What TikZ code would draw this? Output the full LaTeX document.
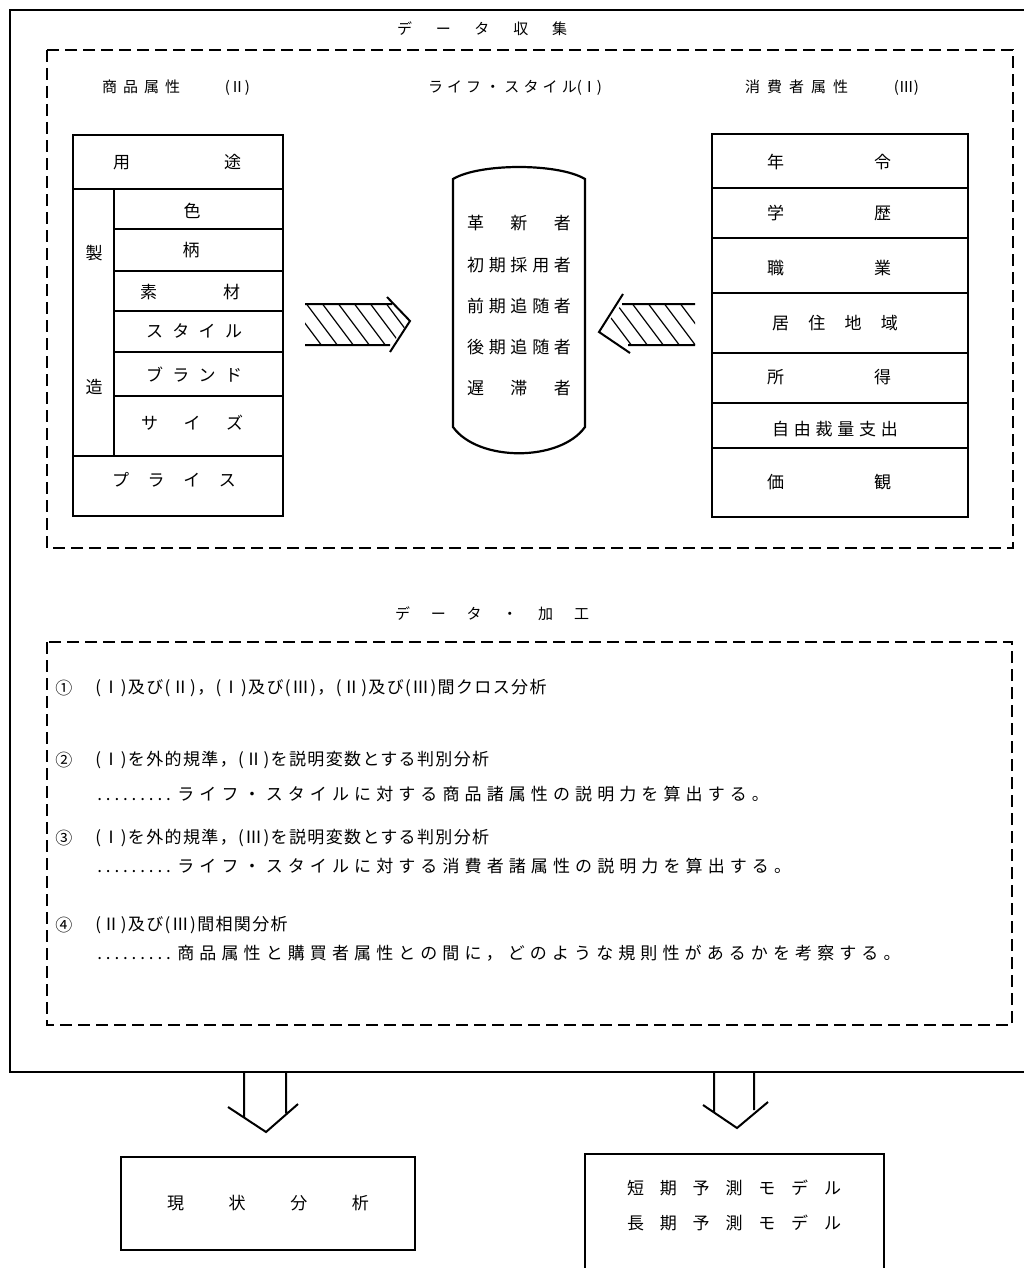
\documentclass[tikz,border=0pt]{standalone}
\usepackage{fontspec}
\setmainfont{Noto Sans CJK JP}
\newfontfamily\jpwide{Noto Sans CJK JP}[LetterSpace=30]
\newfontfamily\jpmid{Noto Sans CJK JP}[LetterSpace=8]
\newcommand\spread[2]{\makebox[#1][s]{#2}}
\newcommand\dotlead{\makebox[39pt][l]{\leaders\hbox to 4.3pt{\hss.\hss}\hfill}\hspace{2pt}}
\tikzset{
  frame/.style={line width=1pt},
  dashbox/.style={line width=0.8pt, dash pattern=on 6pt off 3pt},
  tbl/.style={line width=1.1pt},
  lbl/.style={inner sep=0pt, font=\fontsize{8.5}{10}\selectfont},
  hd/.style={inner sep=0pt, font=\fontsize{7.5}{9}\selectfont},
  item/.style={inner sep=0pt, anchor=west, font=\fontsize{8.5}{10}\selectfont},
  hatch/.style={line width=0.6pt},
  blockarrow/.style={line width=1pt},
}
\begin{document}
\begin{tikzpicture}[x=0.5pt,y=-0.5pt]
\useasboundingbox (0,0) rectangle (1023,1268);
% outer frame, open at the right
\draw[frame] (1030,10) -- (10,10) -- (10,1072) -- (1030,1072);
\node[hd] (collect) at (482,29) {\spread{85pt}{デ\hfill ー\hfill タ\hfill 収\hfill 集}};
\draw[dashbox] (47,50) rectangle (1013,548);
\node[hd] (hgoods) at (176,88) {\spread{74pt}{商\hspace{3pt}品\hspace{3pt}属\hspace{3pt}性\hfill(Ⅱ)}};
\node[hd] (hlife) at (515,88) {\spread{87pt}{ラ\hfill イ\hfill フ\hfill ・\hfill ス\hfill タ\hfill イ\hfill ル(Ⅰ)}};
\node[hd] (hcons) at (832,88) {\spread{87pt}{消\hspace{3.5pt}費\hspace{3.5pt}者\hspace{3.5pt}属\hspace{3.5pt}性\hfill(Ⅲ)}};

% goods attributes
\draw[tbl] (73,135) rectangle (283,516);
\draw[tbl] (73,189) -- (283,189) (73,456) -- (283,456) (114,189) -- (114,456);
\foreach \yy in {229,271,311,352,396} \draw[tbl] (114,\yy) -- (283,\yy);
\node[lbl] (use) at (177,162) {\spread{64pt}{用\hfill 途}};
\node[lbl] (color) at (192,211) {色};
\node[lbl] (pattern) at (191,250) {柄};
\node[lbl] (material) at (190,292) {\spread{50pt}{素\hfill 材}};
\node[lbl] (style) at (194,331) {\spread{48pt}{ス\hfill タ\hfill イ\hfill ル}};
\node[lbl] (brand) at (194,375) {\spread{48pt}{ブ\hfill ラ\hfill ン\hfill ド}};
\node[lbl] (size) at (192,423) {\spread{51pt}{サ\hfill イ\hfill ズ}};
\node[lbl] (price) at (174,480) {\spread{62pt}{プ\hfill ラ\hfill イ\hfill ス}};
\node[lbl] (make1) at (94,253) {製};
\node[lbl] (make2) at (94,387) {造};

% life style
\draw[tbl] (453,179) .. controls (480,163) and (558,163) .. (585,179) -- (585,427)
  .. controls (560,462) and (478,462) .. (453,427) -- cycle;
\node[lbl] (innov) at (519,223) {\spread{52pt}{革\hfill 新\hfill 者}};
\node[lbl] (early) at (519,265) {\spread{52pt}{初\hfill 期\hfill 採\hfill 用\hfill 者}};
\node[lbl] (emaj) at (519,306) {\spread{52pt}{前\hfill 期\hfill 追\hfill 随\hfill 者}};
\node[lbl] (lmaj) at (519,347) {\spread{52pt}{後\hfill 期\hfill 追\hfill 随\hfill 者}};
\node[lbl] (lagg) at (519,388) {\spread{52pt}{遅\hfill 滞\hfill 者}};

% consumer attributes
\draw[tbl] (712,134) rectangle (968,517);
\foreach \yy in {188,238,293,353,403,448} \draw[tbl] (712,\yy) -- (968,\yy);
\node[lbl] (age) at (829,162) {\spread{62pt}{年\hfill 令}};
\node[lbl] (edu) at (829,213) {\spread{62pt}{学\hfill 歴}};
\node[lbl] (job) at (829,268) {\spread{62pt}{職\hfill 業}};
\node[lbl] (area) at (835,323) {\spread{63pt}{居\hfill 住\hfill 地\hfill 域}};
\node[lbl] (income) at (829,377) {\spread{62pt}{所\hfill 得}};
\node[lbl] (spend) at (835,429) {\spread{63pt}{自\hfill 由\hfill 裁\hfill 量\hfill 支\hfill 出}};
\node[lbl] (value) at (829,482) {\spread{62pt}{価\hfill 観}};

% hatched arrows
\begin{scope}
\clip (305,304) -- (393,304) -- (408,323) -- (391,345) -- (305,345) -- cycle;
\foreach \k in {0,...,8} \draw[hatch] (280+16*\k,290) -- ++(45,60);
\end{scope}
\draw[blockarrow] (305,304) -- (392,304) (305,345) -- (390,345) (387,297) -- (410,321) -- (390,352);
\begin{scope}
\clip (695,304) -- (622,304) -- (602,330) -- (628,345) -- (695,345) -- cycle;
\foreach \k in {0,...,8} \draw[hatch] (590+16*\k,290) -- ++(45,60);
\end{scope}
\draw[blockarrow] (695,304) -- (622,304) (695,345) -- (628,345) (623,294) -- (599,332) -- (630,353);

% data processing
\node[hd] (process) at (492,614) {\spread{97pt}{デ\hfill ー\hfill タ\hfill ・\hfill 加\hfill 工}};
\draw[dashbox] (47,642) rectangle (1012,1025);
\node[item] (n1) at (55,688) {①};
\node[item] (t1) at (95,688) {\jpmid (Ⅰ)及び(Ⅱ)，(Ⅰ)及び(Ⅲ)，(Ⅱ)及び(Ⅲ)間クロス分析};
\node[item] (n2) at (55,760) {②};
\node[item] (t2) at (95,760) {\jpmid (Ⅰ)を外的規準，(Ⅱ)を説明変数とする判別分析};
\node[item] (u2) at (95,794) {\jpwide\dotlead ライフ・スタイルに対する商品諸属性の説明力を算出する。};
\node[item] (n3) at (55,838) {③};
\node[item] (t3) at (95,838) {\jpmid (Ⅰ)を外的規準，(Ⅲ)を説明変数とする判別分析};
\node[item] (u3) at (95,866) {\jpwide\dotlead ライフ・スタイルに対する消費者諸属性の説明力を算出する。};
\node[item] (n4) at (55,925) {④};
\node[item] (t4) at (95,925) {\jpmid (Ⅱ)及び(Ⅲ)間相関分析};
\node[item] (u4) at (95,953) {\jpwide\dotlead 商品属性と購買者属性との間に，どのような規則性があるかを考察する。};

% results
\draw[blockarrow] (244,1072) -- (244,1117) (286,1072) -- (286,1113) (228,1107) -- (266,1132) -- (298,1104);
\draw[blockarrow] (714,1072) -- (714,1112) (754,1072) -- (754,1110) (703,1105) -- (737,1128) -- (768,1102);
\node[draw, line width=1.2pt, minimum width=147pt, minimum height=46.5pt, inner sep=0pt] (now) at (268,1203.5)
  {\fontsize{8.5}{10}\selectfont\spread{101pt}{現\hfill 状\hfill 分\hfill 析}};
\draw[tbl] (585,1280) -- (585,1154) -- (884,1154) -- (884,1280);
\node[lbl] (short) at (734,1188) {\spread{107pt}{短\hfill 期\hfill 予\hfill 測\hfill モ\hfill デ\hfill ル}};
\node[lbl] (long) at (734,1223) {\spread{107pt}{長\hfill 期\hfill 予\hfill 測\hfill モ\hfill デ\hfill ル}};
\end{tikzpicture}
\end{document}
